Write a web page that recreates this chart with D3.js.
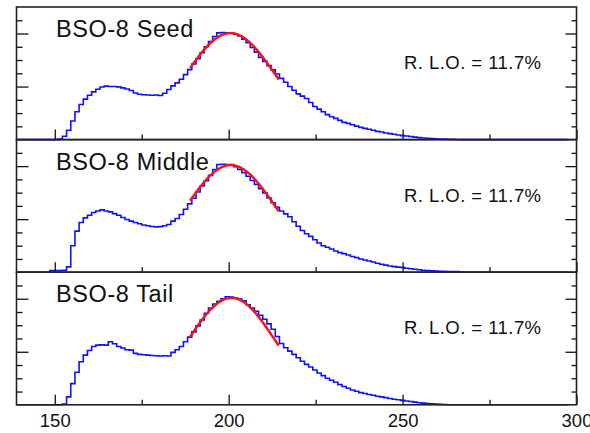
<!DOCTYPE html>
<html>
<head>
<meta charset="utf-8">
<script src="https://cdn.jsdelivr.net/npm/d3@7"></script>
<style>
  html, body { margin: 0; padding: 0; background: #fff; }
  svg { display: block; font-family: "Liberation Sans", Helvetica, Arial, sans-serif; }
</style>
</head>
<body>
<svg id="chart" width="590" height="433"></svg>
<script>
// Histogram binning (energy axis)
const binStart = 139;
const binWidth = 1.2;

// Panel titles and light-output annotations
const panelNames = ["BSO-8 Seed", "BSO-8 Middle", "BSO-8 Tail"];
const rloLabels = ["R. L.O. = 11.7%", "R. L.O. = 11.7%", "R. L.O. = 11.7%"];

// Bin contents, one array per crystal position
const seedCounts = [
  0,0,0,0,0,0,0,0,0,0,
  0.05,0.25,0.7,1.4,2.1,2.65,3.05,3.35,3.6,3.8,
  3.97,4.03,4.0,4.0,3.98,3.9,3.82,3.7,3.52,3.42,
  3.38,3.36,3.34,3.36,3.33,3.5,3.78,4.05,4.28,4.55,
  4.9,5.28,5.7,6.1,6.55,7.0,7.4,7.78,8.05,8.08,
  8.06,8.04,7.95,7.82,7.58,7.3,6.95,6.6,6.2,5.9,
  5.58,5.26,4.95,4.62,4.32,4.0,3.72,3.45,3.28,3.1,
  2.8,2.5,2.3,2.1,1.88,1.72,1.6,1.45,1.3,1.22,
  1.12,1.02,0.92,0.85,0.78,0.7,0.62,0.57,0.5,0.45,
  0.4,0.35,0.3,0.27,0.23,0.19,0.15,0.12,0.1,0.08,
  0.06,0.05,0.04,0.03,0.02,0.01,0,0,0,0,
  0,0,0,0,0,0,0,0,0,0,
  0,0,0,0,0,0,0,0,0,0,
  0,0
];
const middleCounts = [
  0,0,0,0,0,0,0,0,0.12,0.12,
  0.12,0.15,0.4,2.0,3.1,3.75,4.1,4.3,4.5,4.62,
  4.7,4.62,4.55,4.42,4.3,4.12,3.98,3.85,3.75,3.65,
  3.56,3.5,3.45,3.42,3.44,3.5,3.6,3.85,4.05,4.35,
  4.75,5.15,5.58,6.05,6.5,6.9,7.3,7.75,8.12,8.14,
  8.12,8.12,7.95,7.74,7.5,7.24,6.92,6.62,6.3,5.98,
  5.6,5.24,4.9,4.62,4.4,4.18,3.8,3.46,3.15,2.9,
  2.7,2.45,2.2,2.0,1.88,1.75,1.6,1.48,1.4,1.3,
  1.18,1.1,1.0,0.92,0.84,0.77,0.68,0.6,0.53,0.47,
  0.42,0.38,0.35,0.3,0.26,0.22,0.18,0.15,0.12,0.1,
  0.08,0.07,0.06,0.05,0.05,0.04,0.02,0,0,0,
  0,0,0,0,0,0,0,0,0,0,
  0,0,0,0,0,0,0,0,0,0,
  0,0
];
const tailCounts = [
  0,0,0,0,0,0,0,0,0,0,
  0,0.05,0.6,1.6,2.45,3.25,3.75,4.1,4.4,4.5,
  4.52,4.5,4.76,4.6,4.4,4.28,4.15,4.12,3.88,3.8,
  3.78,3.75,3.72,3.7,3.68,3.7,3.68,3.95,4.15,4.4,
  4.75,5.1,5.5,5.95,6.4,6.9,7.3,7.6,7.8,8.0,
  8.15,8.12,8.05,7.98,7.85,7.55,7.3,7.05,6.75,6.45,
  6.1,5.7,5.15,4.62,4.3,4.05,3.8,3.55,3.28,3.05,
  2.85,2.62,2.4,2.2,2.0,1.85,1.7,1.52,1.38,1.25,
  1.12,1.02,0.92,0.85,0.78,0.72,0.65,0.6,0.54,0.48,
  0.42,0.38,0.33,0.29,0.25,0.2,0.16,0.13,0.1,0.07,
  0.05,0.03,0.02,0,0,0,0,0,0,0,
  0,0,0,0,0,0,0,0,0,0,
  0,0,0,0,0,0,0,0,0,0,
  0,0
];
const panelCounts = [seedCounts, middleCounts, tailCounts];

// Gaussian fit of the photopeak: amplitude, mean, sigma, fit range
const fitAmp = [8.03, 8.08, 8.06];
const fitMean = [200.5, 200.6, 200.8];
const fitSigma = [13.0, 13.0, 12.5];
const fitLow = [188.9, 188.9, 188.9];
const fitHigh = [214.5, 214.5, 214.5];

// Axis ticks
const xMajorTicks = [150, 200, 250, 300];
const xMinorTicks = [175, 225, 275];
const xTickLabels = ["150", "200", "250", "300"];
const yMajorTicks = [4, 8];
const yMinorTicks = [1, 2, 3, 5, 6, 7, 9];

// Layout
const frameLeft = 16.5, frameRight = 576.5;
const frameTop = 7, panelHeight = 132.6;
const xDomain = [139, 300];
const yDomain = [0, 10];

const svg = d3.select("#chart");
const x = d3.scaleLinear().domain(xDomain).range([frameLeft, frameRight]);

const stepLine = d3.line()
  .x(d => x(d[0]))
  .curve(d3.curveStepAfter);

panelCounts.forEach((counts, p) => {
  const top = frameTop + p * panelHeight;
  const bottom = top + panelHeight;
  const y = d3.scaleLinear().domain(yDomain).range([bottom, top]);
  const g = svg.append("g");

  // Histogram as a step outline
  const pts = counts.map((c, i) => [binStart + i * binWidth, c]);
  pts.push([binStart + counts.length * binWidth, counts[counts.length - 1]]);
  g.append("path")
    .attr("d", stepLine.y(d => y(d[1]))(pts))
    .attr("fill", "none")
    .attr("stroke", "#1010ff")
    .attr("stroke-width", 1.6);

  // Gaussian fit curve
  const fitPts = d3.range(fitLow[p], fitHigh[p] + 0.001, 0.25).map(e => {
    const z = (e - fitMean[p]) / fitSigma[p];
    return [e, fitAmp[p] * Math.exp(-0.5 * z * z)];
  });
  g.append("path")
    .attr("d", d3.line().x(d => x(d[0])).y(d => y(d[1])).curve(d3.curveLinear)(fitPts))
    .attr("fill", "none")
    .attr("stroke", "#ff1010")
    .attr("stroke-width", 2.4);

  // Inward ticks on left, right and bottom edges
  const tickStyle = sel => {
    sel.select(".domain").remove();
    sel.selectAll("line").attr("stroke", "#111").attr("stroke-width", 1.3);
    sel.selectAll("text").remove();
  };
  g.append("g").attr("transform", `translate(${frameLeft},0)`)
    .call(d3.axisRight(y).tickValues(yMajorTicks).tickSize(12)).call(tickStyle);
  g.append("g").attr("transform", `translate(${frameLeft},0)`)
    .call(d3.axisRight(y).tickValues(yMinorTicks).tickSize(6)).call(tickStyle);
  g.append("g").attr("transform", `translate(${frameRight},0)`)
    .call(d3.axisLeft(y).tickValues(yMajorTicks).tickSize(11)).call(tickStyle);
  g.append("g").attr("transform", `translate(${frameRight},0)`)
    .call(d3.axisLeft(y).tickValues(yMinorTicks).tickSize(5)).call(tickStyle);
  g.append("g").attr("transform", `translate(0,${bottom})`)
    .call(d3.axisTop(x).tickValues(xMajorTicks).tickSize(10)).call(tickStyle);
  g.append("g").attr("transform", `translate(0,${bottom})`)
    .call(d3.axisTop(x).tickValues(xMinorTicks).tickSize(5)).call(tickStyle);

  // Panel frame
  g.append("rect")
    .attr("x", frameLeft).attr("y", top)
    .attr("width", frameRight - frameLeft).attr("height", panelHeight)
    .attr("fill", "none").attr("stroke", "#222").attr("stroke-width", 1.6);

  // Labels
  g.append("text")
    .attr("x", 56).attr("y", top + 30)
    .attr("font-size", 23.5).attr("letter-spacing", 0.6).attr("fill", "#111")
    .text(panelNames[p]);
  g.append("text")
    .attr("x", 404).attr("y", top + 62)
    .attr("font-size", 18.5).attr("letter-spacing", 0.45).attr("fill", "#111")
    .text(rloLabels[p]);

  // Tick labels under the last panel only
  if (p === panelCounts.length - 1) {
    const ax = g.append("g").attr("transform", `translate(0,${bottom})`)
      .call(d3.axisBottom(x).tickValues(xMajorTicks).tickSize(0).tickPadding(9)
        .tickFormat((d, i) => xTickLabels[i]));
    ax.select(".domain").remove();
    ax.selectAll("text")
      .attr("font-size", 18.5)
      .attr("font-family", "\"Liberation Sans\", Helvetica, Arial, sans-serif")
      .attr("fill", "#111");
  }
});
</script>
</body>
</html>
